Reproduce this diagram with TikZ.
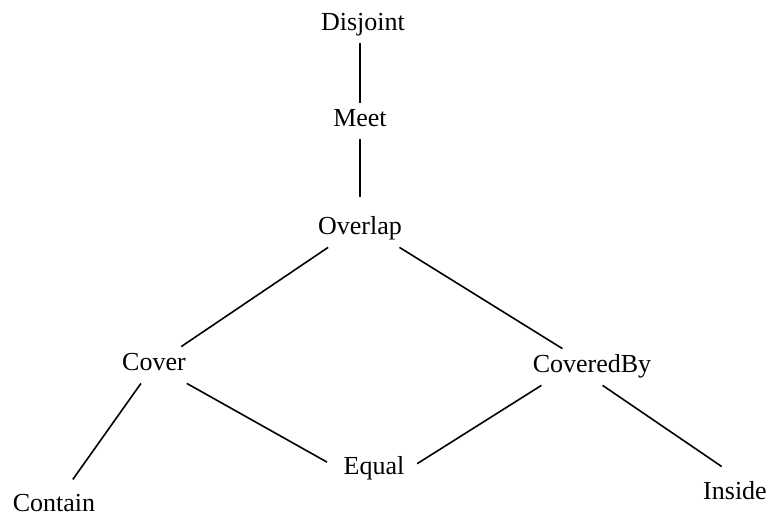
\documentclass[tikz,border=0pt]{standalone}
\usepackage{fontspec}
\setmainfont{Liberation Serif}
\usepackage{tikz}
\usetikzlibrary{positioning,calc}

\begin{document}
\begin{tikzpicture}[x=0.5pt,y=-0.5pt,
  rel/.style={anchor=base,inner xsep=2pt,inner ysep=3pt,text height=9pt,text depth=3pt,font=\fontsize{13}{15}\selectfont},
  link/.style={line width=0.8pt}]
  \useasboundingbox (0,0) rectangle (768,517);
  \node[rel] (disjoint) at (363,31){Disjoint};
  \node[rel] (meet) at (360,127){Meet};
  \node[rel] (overlap) at (360,235){Overlap};
  \node[rel] (cover) at (154,371){Cover}; \node[rel] (coveredby) at (592,373){CoveredBy};
  \node[rel] (equal) at (374,475){Equal};
  \node[rel] (contain) at (54,512){Contain}; \node[rel] (inside) at (735,500){Inside};
  \draw[link](disjoint.south -| meet.north)--(meet.north);
  \draw[link,shorten >=7pt](meet.south)--(overlap.north);
  \draw[link](overlap.210)--(cover); \draw[link](overlap.-25)--(coveredby);
  \draw[link,shorten >=5pt](cover)--(contain);
  \draw[link,shorten >=7pt](cover)--(equal.west);
  \draw[link,shorten >=5pt](coveredby.200)--(equal.east);
  \draw[link,shorten >=8pt](coveredby.300)--(inside.north);
\end{tikzpicture}
\end{document}
